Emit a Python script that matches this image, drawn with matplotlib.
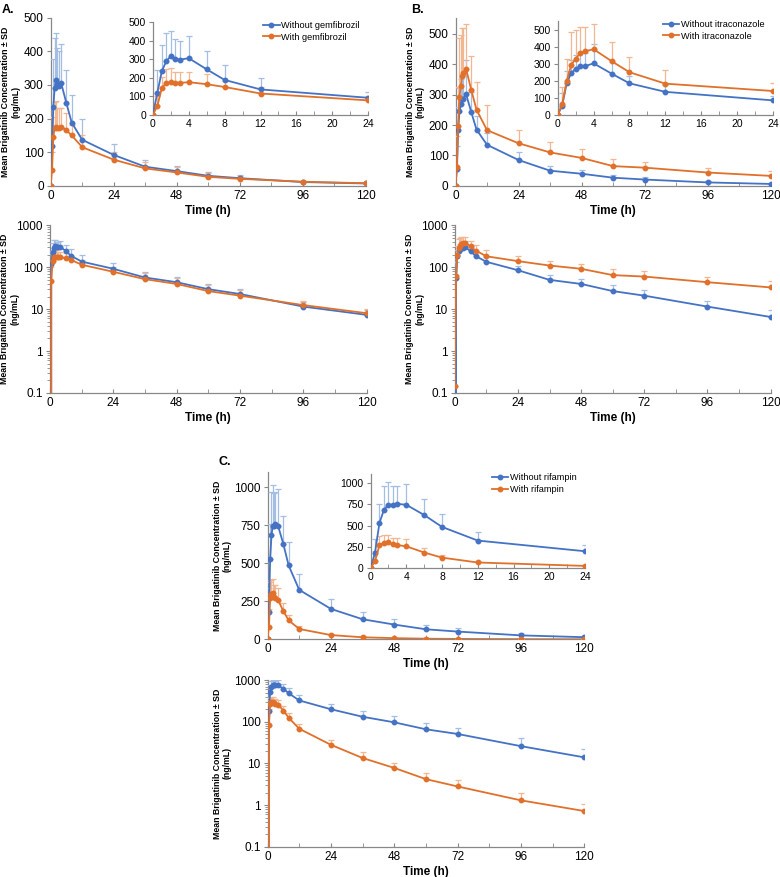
import matplotlib.pyplot as plt
import numpy as np
from matplotlib.ticker import MultipleLocator, LogLocator, NullFormatter, FixedLocator

plt.rcParams['font.family'] = ['Liberation Sans', 'DejaVu Sans']

time = [0, 0.5, 1, 1.5, 2, 2.5, 3, 4, 6, 8, 12, 24, 36, 48, 60, 72, 96, 120]

# A: gemfibrozil
a_without = [0, 120, 235, 290, 315, 302, 297, 305, 245, 188, 137, 92, 57, 44, 30, 23, 11.5, 7.3]
a_without_up = [0, 240, 378, 438, 453, 410, 400, 422, 343, 270, 200, 125, 78, 60, 40, 31, 15, 9.5]
a_with = [0, 48, 145, 172, 176, 173, 172, 176, 165, 150, 115, 78, 52, 40, 27, 21, 12.5, 8]
a_with_up = [0, 100, 205, 248, 252, 230, 230, 232, 218, 180, 150, 100, 72, 55, 38, 28, 16, 10]

# B: itraconazole
b_without = [0, 55, 185, 245, 270, 285, 285, 302, 242, 185, 135, 85, 50, 40, 27, 21, 11.5, 6.5]
b_without_up = [0, 130, 260, 320, 350, 360, 360, 415, 310, 230, 175, 110, 67, 53, 37, 28, 16, 9.5]
b_with = [0.15, 62, 198, 292, 328, 362, 372, 385, 315, 250, 183, 140, 110, 92, 65, 60, 44, 33]
b_with_up = [0.15, 165, 325, 485, 495, 518, 518, 532, 425, 340, 265, 185, 145, 120, 90, 80, 60, 48]

# C: rifampin
c_without = [0, 180, 530, 685, 745, 745, 755, 745, 625, 485, 325, 200, 132, 97, 66, 51, 26, 14]
c_without_up = [0, 340, 755, 965, 1015, 960, 970, 985, 810, 640, 430, 268, 180, 135, 95, 72, 40, 22]
c_with = [0, 82, 270, 300, 305, 280, 272, 258, 185, 125, 68, 28, 13.5, 7.8, 4.2, 2.8, 1.3, 0.72]
c_with_up = [0, 200, 375, 390, 395, 355, 355, 340, 240, 160, 90, 37, 19, 10.5, 6, 3.9, 1.95, 1.05]

blue = '#4472C4'
orange = '#E0702A'
blue_err = '#A3BDE3'
orange_err = '#F2B791'
axcol = '#888888'
ylab = 'Mean Brigatinib Concentration \u00b1 SD\n(ng/mL)'


def style(ax, fs):
    for s in ['top', 'right']:
        ax.spines[s].set_visible(False)
    for s in ['left', 'bottom']:
        ax.spines[s].set_color(axcol)
        ax.spines[s].set_linewidth(0.9)
    ax.tick_params(axis='y', which='both', direction='out', color=axcol, labelsize=fs, length=3, pad=2)
    ax.tick_params(axis='x', which='both', direction='in', color=axcol, labelsize=fs, length=3, pad=3)


def series(ax, t, y, up, col, ecol, label, n=None):
    t = np.array(t[:n] if n else t)
    y = np.array(y[:n] if n else y)
    up = np.array(up[:n] if n else up)
    err = np.clip(up - y, 0, None)
    ax.errorbar(t, y, yerr=[np.zeros_like(err), err], color=col, ecolor=ecol,
                elinewidth=0.9, capsize=2, capthick=0.9, lw=1.3, marker='o', ms=3.2,
                label=label, zorder=3)


def put_ylabel(ax, lx):
    ax.set_ylabel(ylab, fontsize=6.3, fontweight='bold', linespacing=1.15)
    ax.yaxis.label.set_va('center')
    ax.yaxis.set_label_coords(lx, 0.5)


def panel(rect_lin, rect_ins, rect_log, d1, d2, labels, ymax, ystep, ins_ymax, ins_step, lx=-0.127):
    ax = fig.add_axes(rect_lin)
    series(ax, time, d1[0], d1[1], blue, blue_err, labels[0])
    series(ax, time, d2[0], d2[1], orange, orange_err, labels[1])
    ax.set_xlim(0, 120)
    ax.set_ylim(0, ymax)
    ax.xaxis.set_major_locator(MultipleLocator(24))
    ax.xaxis.set_minor_locator(MultipleLocator(12))
    ax.yaxis.set_major_locator(MultipleLocator(ystep))
    style(ax, 8.5)
    put_ylabel(ax, lx)
    ax.set_xlabel('Time (h)', fontsize=8.5, fontweight='bold', labelpad=2)

    ins = fig.add_axes(rect_ins)
    series(ins, time, d1[0], d1[1], blue, blue_err, labels[0], n=12)
    series(ins, time, d2[0], d2[1], orange, orange_err, labels[1], n=12)
    ins.set_xlim(0, 24)
    ins.set_ylim(0, ins_ymax)
    ins.xaxis.set_major_locator(MultipleLocator(4))
    ins.xaxis.set_minor_locator(MultipleLocator(2))
    ins.yaxis.set_major_locator(MultipleLocator(ins_step))
    style(ins, 7.5)
    h, l = ins.get_legend_handles_labels()
    ins.legend([x[0] for x in h], l, loc='upper right', bbox_to_anchor=(1.0, 1.1), fontsize=6.6,
               frameon=False, handlelength=1.8, handletextpad=0.2, labelspacing=0.3)

    lg = fig.add_axes(rect_log)
    series(lg, time, d1[0], d1[1], blue, blue_err, labels[0])
    series(lg, time, d2[0], d2[1], orange, orange_err, labels[1])
    lg.set_yscale('log')
    lg.set_xlim(0, 120)
    lg.set_ylim(0.1, 1000)
    lg.xaxis.set_major_locator(MultipleLocator(24))
    lg.xaxis.set_minor_locator(MultipleLocator(12))
    lg.yaxis.set_major_locator(FixedLocator([0.1, 1, 10, 100, 1000]))
    lg.yaxis.set_major_formatter(plt.FuncFormatter(lambda v, p: f'{v:g}'))
    lg.yaxis.set_minor_locator(LogLocator(base=10, subs=np.arange(2, 10)))
    lg.yaxis.set_minor_formatter(NullFormatter())
    style(lg, 8.5)
    lg.tick_params(axis='y', which='minor', length=2)
    put_ylabel(lg, lx)
    lg.set_xlabel('Time (h)', fontsize=8.5, fontweight='bold', labelpad=2)


fig = plt.figure(figsize=(7.8, 8.77), dpi=100)

panel([0.065, 0.788, 0.404, 0.192], [0.196, 0.869, 0.276, 0.106], [0.064, 0.552, 0.406, 0.191],
      (a_without, a_without_up), (a_with, a_with_up),
      ['Without gemfibrozil', 'With gemfibrozil'], 500, 100, 500, 100)
panel([0.584, 0.788, 0.404, 0.191], [0.715, 0.869, 0.276, 0.107], [0.583, 0.552, 0.405, 0.191],
      (b_without, b_without_up), (b_with, b_with_up),
      ['Without itraconazole', 'With itraconazole'], 550, 100, 550, 100)
panel([0.343, 0.271, 0.406, 0.191], [0.475, 0.352, 0.275, 0.107], [0.343, 0.0345, 0.406, 0.190],
      (c_without, c_without_up), (c_with, c_with_up),
      ['Without rifampin', 'With rifampin'], 1100, 250, 1100, 250, lx=-0.142)

fig.text(0.002, 0.995, 'A.', fontsize=9, fontweight='bold', va='top')
fig.text(0.527, 0.995, 'B.', fontsize=9, fontweight='bold', va='top')
fig.text(0.280, 0.480, 'C.', fontsize=9, fontweight='bold', va='top')

fig.savefig('out.png', dpi=100)
